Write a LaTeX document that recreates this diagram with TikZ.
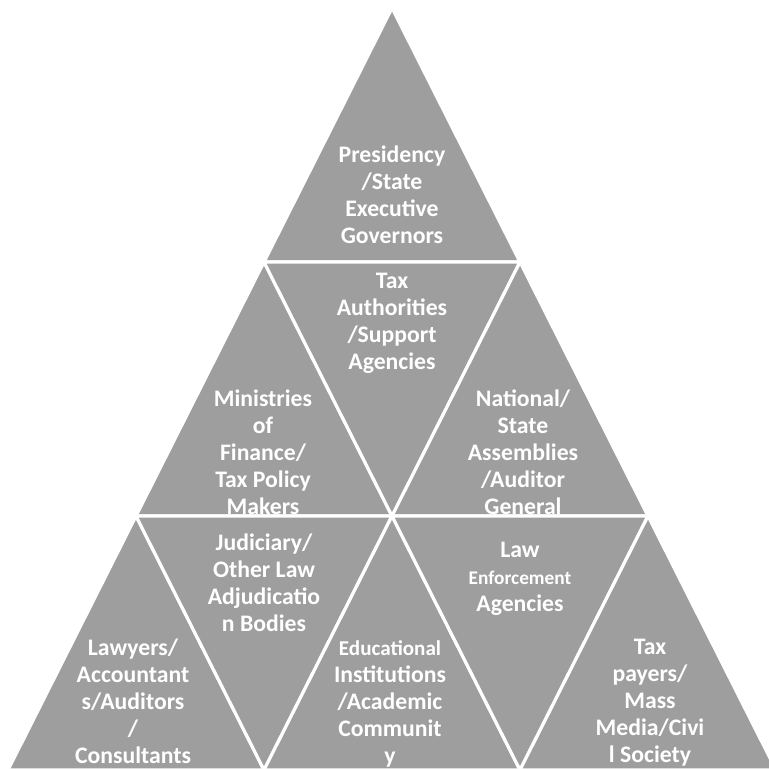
\documentclass[tikz,border=0pt]{standalone}
\usepackage{fontspec}
\setmainfont{Carlito}
\usetikzlibrary{positioning}

\definecolor{pyrgray}{RGB}{158,158,158}

\begin{document}
\begin{tikzpicture}[
    x=0.02cm,
    y=-0.02cm,
    tile/.style={
        fill=pyrgray,
        draw=white,
        line width=1.8pt,
        line join=round
    },
    tier/.style={
        text=white,
        align=center,
        inner sep=0pt,
        font=\fontsize{13.5}{15.4}\selectfont\bfseries
    }
]

% Page
\useasboundingbox (0,0) rectangle (768,770);

% Grid points of the pyramid
\coordinate (a0) at (392,8);
\coordinate (b0) at (264,262);
\coordinate (b1) at (520,262);
\coordinate (c0) at (136,516);
\coordinate (c1) at (392,516);
\coordinate (c2) at (648,516);
\coordinate (d0) at (8,770);
\coordinate (d1) at (264,770);
\coordinate (d2) at (520,770);
\coordinate (d3) at (776,770);

% Tiles
\draw[tile] (a0) -- (b0) -- (b1) -- cycle;
\draw[tile] (b0) -- (c0) -- (c1) -- cycle;
\draw[tile] (b0) -- (b1) -- (c1) -- cycle;
\draw[tile] (b1) -- (c1) -- (c2) -- cycle;
\draw[tile] (c0) -- (d0) -- (d1) -- cycle;
\draw[tile] (c0) -- (c1) -- (d1) -- cycle;
\draw[tile] (c1) -- (d1) -- (d2) -- cycle;
\draw[tile] (c1) -- (c2) -- (d2) -- cycle;
\draw[tile] (c2) -- (d2) -- (d3) -- cycle;

% Labels
\node[tier] (presidency) at (392,195) {Presidency\\/State\\Executive\\Governors};
\node[tier] (taxauth) at (392,323) {Tax\\Authorities\\/Support\\Agencies};
\node[tier] (ministries) at (263,452) {Ministries\\of\\Finance/\\Tax Policy\\Makers};
\node[tier] (assemblies) at (523,452) {National/\\State\\Assemblies\\/Auditor\\General};
\node[tier] (judiciary) at (264,583) {Judiciary/\\Other Law\\Adjudicatio\\n Bodies};
\node[tier] (lawenf) at (520,579) {Law\\{\fontsize{11}{15.4}\selectfont Enforcement}\\Agencies};
\node[tier] (lawyers) at (133,701) {Lawyers/\\Accountant\\s/Auditors\\/\\Consultants};
\node[tier] (education) at (390,704) {{\fontsize{12}{15.4}\selectfont Educational}\\Institutions\\/Academic\\Communit\\y};
\node[tier] (taxpayers) at (650,703) {Tax\\payers/\\Mass\\Media/Civi\\l Society};

\end{tikzpicture}
\end{document}
